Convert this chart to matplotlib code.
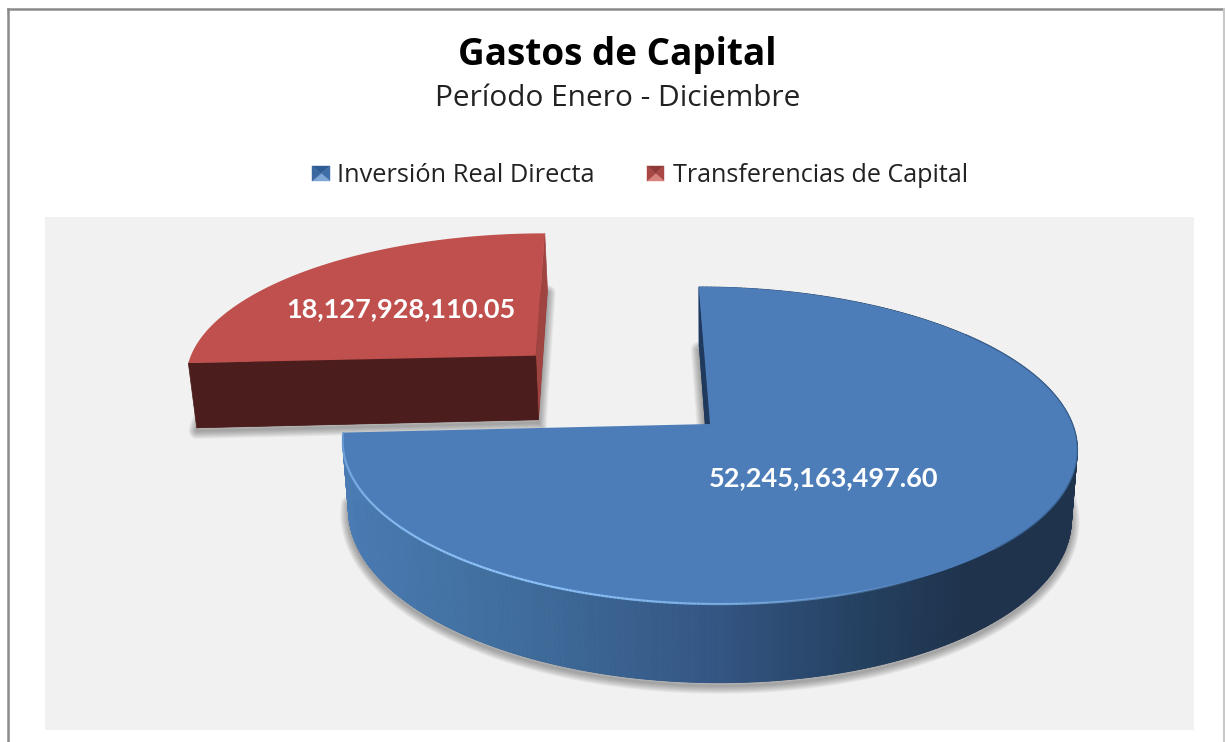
import numpy as np
import matplotlib
matplotlib.use("Agg")
import matplotlib.pyplot as plt
from matplotlib.collections import PolyCollection, LineCollection
from matplotlib.colors import LinearSegmentedColormap

title = "Gastos de Capital"
subtitle = "Período Enero - Diciembre"
categories = ["Inversión Real Directa", "Transferencias de Capital"]
values = [52245163497.60, 18127928110.05]
value_labels = ["52,245,163,497.60", "18,127,928,110.05"]

# 3d pie set up (pixel space)
cx, cy = 710, 424
a, b, k = 364, 155.6, 0.1356
depth = 68
conv = 0.984
tilt = 0.012
rotation = -2
explode = 0.68

shares = np.array(values) / sum(values) * 360
blue_start = rotation
blue_end = blue_start + shares[0]
red_start = blue_end - 360
red_end = red_start + shares[1]


def project(x, z, low=False):
    s = 1 / (1 + k * z)
    px = a * x * s
    py = cy - b * z * s + tilt * px
    if low:
        px = px * conv
        py = py + depth * s
    return cx + px, py


def outline(t1, t2, ox=0.0, oz=0.0, low=False, n=361):
    th = np.radians(np.linspace(t1, t2, n))
    return project(np.sin(th) + ox, np.cos(th) + oz, low)


def wedge(t1, t2, ox=0.0, oz=0.0, low=False):
    xs, ys = outline(t1, t2, ox, oz, low)
    ax0, ay0 = project(ox, oz, low)
    return np.column_stack([np.r_[ax0, xs], np.r_[ay0, ys]])


def shadow(ax, pts, dy=3, steps=9):
    xs = np.r_[pts[:, 0], pts[0, 0]]
    ys = np.r_[pts[:, 1], pts[0, 1]] + dy
    for i in range(1, steps + 1):
        ax.plot(xs, ys, color="#3a3a3a", alpha=0.055, lw=i * 1.3, zorder=2,
                solid_joinstyle="round")


def legend_box(ax, x0, y0, x1, y1, cols):
    mx, my = (x0 + x1) / 2, (y0 + y1) / 2
    corners = [(x0, y0), (x1, y0), (x1, y1), (x0, y1)]
    for i in range(4):
        tri = [corners[i], corners[(i + 1) % 4], (mx, my)]
        ax.fill(*zip(*tri), color=cols[i], lw=0.3, zorder=5)


fig = plt.figure(figsize=(12.25, 7.42), dpi=100)
ax = fig.add_axes([0, 0, 1, 1])
ax.set_xlim(0, 1225)
ax.set_ylim(742, 0)
ax.axis("off")

# frame and plot area
ax.plot([7.5, 7.5], [742, 9], color="#8a8a8a", lw=1.8, zorder=1)
ax.plot([7.5, 1224], [9, 9], color="#8a8a8a", lw=1.8, zorder=1)
ax.plot([1224, 1224], [9, 742], color="#c8c8c8", lw=1.5, zorder=1)
ax.fill([45, 1194, 1194, 45], [217, 217, 730, 730], color="#f1f1f1", lw=0, zorder=1)

# red slice
mid = np.radians((red_start + red_end) / 2)
ox, oz = explode * np.sin(mid), explode * np.cos(mid)
red_low = wedge(red_start, red_end, ox, oz, low=True)
red_top = wedge(red_start, red_end, ox, oz)
shadow(ax, red_low)
ax.fill(red_low[:, 0], red_low[:, 1], color="#4b1d1c", lw=0, zorder=3)
side = np.array([red_top[0], red_top[-1], red_low[-1], red_low[0]])
ax.fill(side[:, 0], side[:, 1], color="#a04441", lw=0.5, zorder=3)
front = np.array([red_top[0], red_top[1], red_low[1], red_low[0]])
ax.fill(front[:, 0], front[:, 1], color="#4b1d1c", lw=0.5, zorder=3)
ax.fill(red_top[:, 0], red_top[:, 1], color="#bf504d", lw=0, zorder=4)

# blue slice
blue_low = wedge(blue_start, blue_end, low=True)
blue_top = wedge(blue_start, blue_end)
shadow(ax, blue_low)
ax.fill(blue_low[:, 0], blue_low[:, 1], color="#1f334d", lw=0, zorder=6)

wall_cmap = LinearSegmentedColormap.from_list(
    "wall", [(0, "#4a7bb3"), (0.2, "#41709f"), (0.5, "#355785"), (0.72, "#24405f"), (0.85, "#1f334d"), (1, "#1f334d")])
tx, ty = blue_top[1:, 0], blue_top[1:, 1]
lx, ly = blue_low[1:, 0], blue_low[1:, 1]
quads, cols = [], []
for i in range(len(tx) - 1):
    quads.append([(tx[i], ty[i]), (tx[i + 1], ty[i + 1]), (lx[i + 1], ly[i + 1]), (lx[i], ly[i])])
    cols.append(wall_cmap((tx[i] - 343) / (1078 - 343)))
ax.add_collection(PolyCollection(quads, facecolors=cols, edgecolors=cols, linewidths=0.6, zorder=6))
start_wall = np.array([blue_top[0], blue_top[1], blue_low[1], blue_low[0]])
ax.fill(start_wall[:, 0], start_wall[:, 1], color="#1f3a5c", lw=0, zorder=6)
ax.fill(blue_top[:, 0], blue_top[:, 1], color="#4c7db9", lw=0, zorder=7)

# rim highlight along the front of the top face
hx, hy = outline(blue_end, 150, n=200)
segs = [[(hx[i], hy[i]), (hx[i + 1], hy[i + 1])] for i in range(len(hx) - 1)]
alphas = np.sin(np.linspace(0.25, np.pi, len(segs))) ** 0.7
ax.add_collection(LineCollection(segs, colors=[(0.55, 0.76, 0.97, al) for al in alphas], linewidths=1.6, zorder=8))
dx, dy = outline(50, 135, n=120)
ax.plot(dx, dy, color="#38608f", lw=1.0, alpha=0.8, zorder=8)

# text
ax.text(617, 55, title, ha="center", va="center", fontsize=26.6, fontweight="bold",
        family="Open Sans", color="#000000", zorder=9)
ax.text(617.5, 98, subtitle, ha="center", va="center", fontsize=21.5, family="Open Sans",
        color="#222222", zorder=9)
ax.text(337, 176, categories[0], ha="left", va="center", fontsize=18.3, family="Open Sans",
        color="#222222", zorder=9)
ax.text(673, 176, categories[1], ha="left", va="center", fontsize=18.1, family="Open Sans",
        color="#222222", zorder=9)
legend_box(ax, 312, 166, 330, 181, ["#2f5d93", "#3f6ea8", "#7ea6d6", "#3a689f"])
legend_box(ax, 647, 166, 664, 181, ["#8f3a38", "#a84744", "#d9827f", "#a84744"])

ax.text(823.5, 478, value_labels[0], ha="center", va="center", fontsize=19.5, fontweight="bold",
        family="Lato", color="#ffffff", zorder=9)
ax.text(401, 309, value_labels[1], ha="center", va="center", fontsize=19.5, fontweight="bold",
        family="Lato", color="#ffffff", zorder=9)

fig.savefig("out.png", dpi=100)
